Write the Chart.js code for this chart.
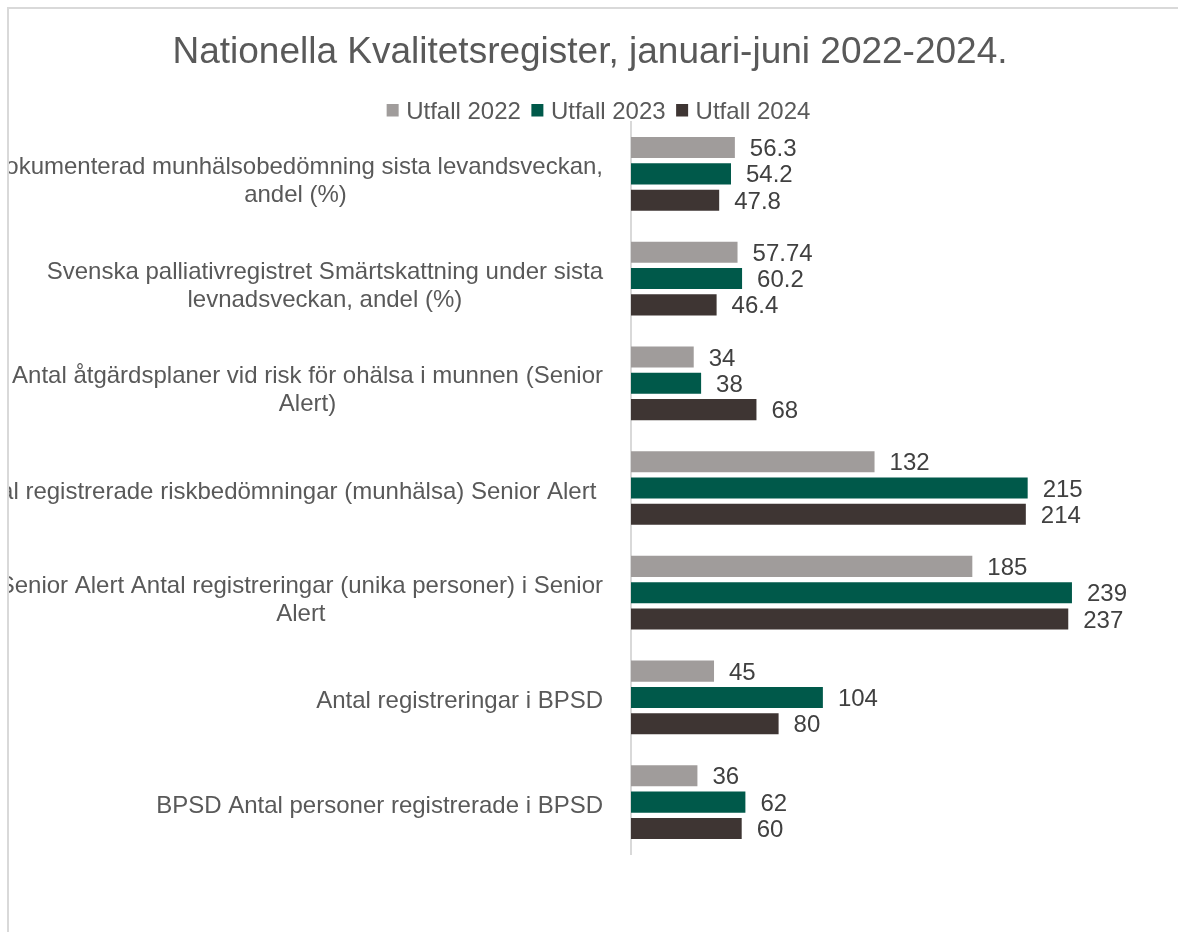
<!DOCTYPE html>
<html>
<head>
<meta charset="utf-8">
<script src="https://cdn.jsdelivr.net/npm/chart.js@4.4.0/dist/chart.umd.min.js"></script>
<style>
  body { margin: 0; background: #fff; }
  #frame {
    position: absolute; left: 7px; top: 7px; width: 1200px; height: 960px;
    border-left: 2px solid #d9d9d9; border-top: 2px solid #d9d9d9;
    overflow: hidden; background: #fff;
  }
  #box { position: absolute; left: -9px; top: -9px; width: 1178px; height: 932px; }
</style>
</head>
<body>
<div id="frame"><div id="box"><canvas id="kvalitetChart"></canvas></div></div>
<script>
const chartTitle = 'Nationella Kvalitetsregister, januari-juni 2022-2024.'
const categoryLines = [
    ['Dokumenterad munhälsobedömning sista levandsveckan,', 'andel (%)'],
    ['Svenska palliativregistret Smärtskattning under sista', 'levnadsveckan, andel (%)'],
    ['Antal åtgärdsplaner vid risk för ohälsa i munnen (Senior', 'Alert)'],
    ['Antal registrerade riskbedömningar (munhälsa) Senior Alert '],
    ['Senior Alert Antal registreringar (unika personer) i Senior', 'Alert'],
    ['Antal registreringar i BPSD'],
    ['BPSD Antal personer registrerade i BPSD']
]
const seriesNames = ['Utfall 2022', 'Utfall 2023', 'Utfall 2024']
const utfall2022 = [56.3, 57.74, 34, 132, 185, 45, 36]
const utfall2023 = [54.2, 60.2, 38, 215, 239, 104, 62]
const utfall2024 = [47.8, 46.4, 68, 214, 237, 80, 60]

const colors = ['#a09c9b', '#00594a', '#3e3533']
const font = '"Liberation Sans", Arial, sans-serif'

const textPlugin = {
    id: 'excelText',
    afterDatasetsDraw(chart) {
        const ctx = chart.ctx
        const yScale = chart.scales.y
        ctx.save()

        // title
        ctx.fillStyle = '#595959'
        ctx.font = '37px ' + font
        ctx.textAlign = 'center'
        ctx.textBaseline = 'alphabetic'
        ctx.fillText(chartTitle, 590, 63)

        // legend
        ctx.font = '24px ' + font
        ctx.textAlign = 'left'
        const items = chart.data.datasets.map(ds => ({ label: ds.label, color: ds.backgroundColor, w: ctx.measureText(ds.label).width }))
        let total = 0
        items.forEach((it, i) => { total += 12 + 7.5 + it.w + (i > 0 ? 10.5 : 0) })
        let lx = 598.5 - total / 2
        items.forEach(it => {
            ctx.fillStyle = it.color
            ctx.fillRect(lx, 104, 12, 12.5)
            ctx.fillStyle = '#595959'
            ctx.fillText(it.label, lx + 19.5, 119)
            lx += 12 + 7.5 + it.w + 10.5
        })

        // category labels, each block right aligned, lines centered
        categoryLines.forEach((lines, i) => {
            const cy = yScale.getPixelForValue(i)
            const widths = lines.map(l => ctx.measureText(l).width)
            const maxW = Math.max(...widths)
            const cx = 603 - maxW / 2
            const lh = 28
            const first = cy + 10.5 - (lines.length - 1) * lh / 2 + (lines.length - 1) * 3.5
            ctx.textAlign = 'center'
            lines.forEach((l, j) => ctx.fillText(l, cx, first + j * lh))
        })

        // value labels
        ctx.fillStyle = '#404040'
        ctx.textAlign = 'left'
        chart.data.datasets.forEach((ds, di) => {
            chart.getDatasetMeta(di).data.forEach((bar, i) => {
                ctx.fillText(String(ds.data[i]), bar.x + 15, bar.y + 8.6)
            })
        })
        ctx.restore()
    }
}

new Chart('kvalitetChart', {
    type: 'bar',
    data: {
        labels: categoryLines.map(l => l.join(' ').trim()),
        datasets: [
            { label: seriesNames[0], data: utfall2022, backgroundColor: colors[0] },
            { label: seriesNames[1], data: utfall2023, backgroundColor: colors[1] },
            { label: seriesNames[2], data: utfall2024, backgroundColor: colors[2] }
        ]
    },
    options: {
        indexAxis: 'y',
        responsive: true,
        maintainAspectRatio: false,
        animation: false,
        categoryPercentage: 0.754,
        barPercentage: 0.8,
        layout: { padding: { top: 121.5, bottom: 77.5, right: 30.4, left: 0 } },
        plugins: {
            legend: { display: false },
            title: { display: false },
            tooltip: { enabled: false }
        },
        scales: {
            x: { display: false, min: 0, max: 280 },
            y: {
                grid: { display: false },
                border: { display: true, color: '#d9d9d9', width: 2 },
                ticks: { display: false },
                afterFit: s => { s.width = 631 }
            }
        }
    },
    plugins: [textPlugin]
})
</script>
</body>
</html>
